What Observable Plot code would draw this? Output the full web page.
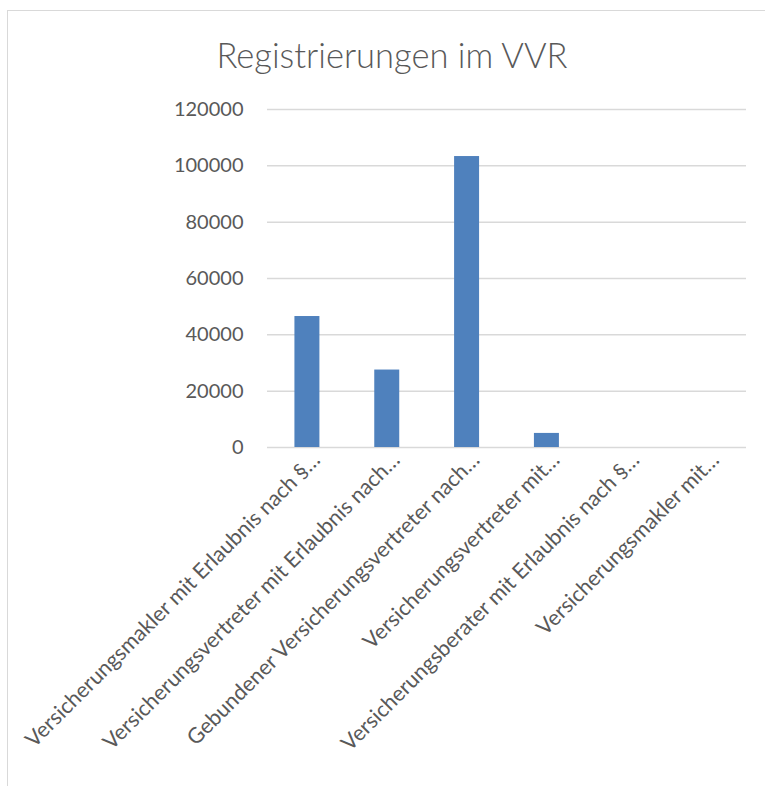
<!DOCTYPE html>
<html><head><meta charset="utf-8">
<script src="https://cdn.jsdelivr.net/npm/d3@7"></script>
<script src="https://cdn.jsdelivr.net/npm/@observablehq/plot@0.6"></script>
<style>
body{margin:0;background:#fff;font-family:Lato,sans-serif;}
#wrap{position:relative;width:765px;height:786px;overflow:hidden;background:#fff;}
#frame{position:absolute;left:7px;top:10px;width:820px;height:820px;border:1.5px solid #d9d9d9;box-sizing:border-box;}
#title{position:absolute;left:0;top:34px;width:784px;text-align:center;font-family:Lato,sans-serif;font-weight:300;font-size:34.5px;color:#595959;line-height:42px;}
#chart{position:absolute;left:0;top:90px;}
</style>
</head><body>
<div id="wrap">
<div id="frame"></div>
<div id="title">Registrierungen im VVR</div>
<div id="chart"></div>
</div>
<script>
const categories = [
  "Versicherungsmakler mit Erlaubnis nach §…",
  "Versicherungsvertreter mit Erlaubnis nach…",
  "Gebundener Versicherungsvertreter nach…",
  "Versicherungsvertreter mit…",
  "Versicherungsberater mit Erlaubnis nach §…",
  "Versicherungsmakler mit…"
];
const values = [46500, 27500, 103300, 5000, 0, 0];
const yTicks = [0, 20000, 40000, 60000, 80000, 100000, 120000];

const data = categories.map((c, i) => ({cat: c, value: values[i]}));

const chart = Plot.plot({
  width: 765,
  height: 696,
  marginTop: 19,
  marginBottom: 339,
  marginLeft: 267,
  marginRight: 19,
  style: {fontFamily: "Lato, sans-serif", fontSize: "20px", color: "#595959", background: "transparent", overflow: "visible"},
  x: {domain: categories, paddingInner: 0.687, paddingOuter: 0.3435, round: false, label: null, axis: null},
  y: {domain: [0, 120000], label: null, axis: null},
  marks: [
    Plot.gridY(yTicks, {stroke: "#d9d9d9", strokeOpacity: 1, strokeWidth: 1.5}),
    Plot.barY(data, {x: "cat", y: "value", fill: "#4f81bd"}),
    Plot.axisY(yTicks, {tickSize: 0, tickPadding: 24, tickFormat: d => String(d), fill: "#595959", fontSize: 20, label: null}),
    Plot.axisX({tickSize: 0, tickPadding: 9, tickRotate: -45, dx: 9, fill: "#595959", fontSize: 21.5, label: null})
  ]
});
document.getElementById("chart").appendChild(chart);
</script>
</body></html>
